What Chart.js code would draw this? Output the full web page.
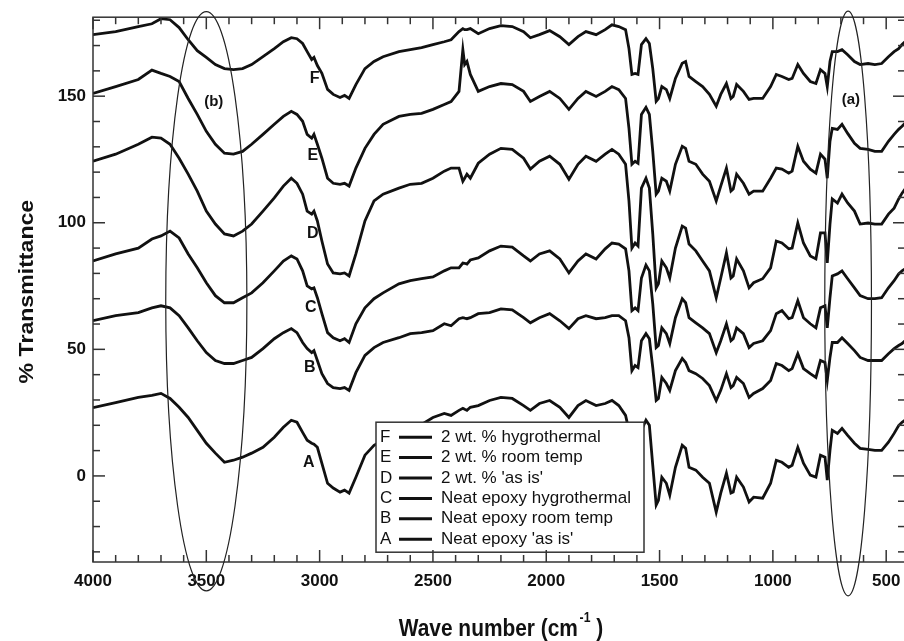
<!DOCTYPE html>
<html>
<head>
<meta charset="utf-8">
<script src="https://cdn.jsdelivr.net/npm/chart.js@4.4.1/dist/chart.umd.min.js"></script>
<style>
html, body { margin: 0; padding: 0; background: #fff; overflow: hidden; }
#wrap { width: 910px; height: 641px; }
</style>
</head>
<body>
<div id="wrap"><canvas id="ftirChart" width="910" height="641"></canvas></div>
<script>
// wave numbers (cm-1), shared by all six spectra
const waveNumbers = [
  4000,3900,3800,3740,3700,3660,3620,3580,3540,3500,
  3460,3420,3380,3340,3300,3250,3200,3160,3125,3100,
  3075,3055,3035,3025,3010,2990,2965,2940,2910,2890,
  2870,2840,2800,2760,2720,2650,2600,2550,2500,2450,
  2420,2385,2368,2360,2350,2335,2300,2250,2200,2150,
  2100,2070,2030,1985,1940,1900,1860,1825,1780,1740,
  1710,1680,1650,1635,1622,1608,1595,1580,1560,1545,
  1530,1515,1505,1490,1470,1455,1430,1400,1385,1370,
  1340,1310,1280,1250,1230,1205,1185,1175,1160,1130,
  1105,1085,1045,1010,985,960,930,915,890,865,
  835,810,790,770,760,748,738,715,695,670,
  640,615,580,550,520,490,465,445,430,417
];

// % transmittance (curves are offset in the original)
const curveF = [
  174.3,175.5,177.5,178.6,180.6,180.2,177.1,172.3,168.0,165.3,
  162.5,160.9,160.5,160.9,162.5,165.6,168.8,171.5,173.1,172.7,
  170.8,167.6,164.5,165.3,162.1,159.0,152.7,150.7,149.5,150.3,
  149.1,154.6,160.9,163.7,165.6,167.6,168.4,169.2,170.4,171.5,
  172.3,175.5,176.7,176.3,176.3,176.7,174.7,176.7,177.9,177.5,
  175.5,173.1,174.3,175.9,173.5,170.4,173.5,175.5,174.3,176.3,
  178.2,177.5,176.3,168.8,158.6,159.0,158.6,170.4,172.7,170.8,
  160.9,148.0,149.1,153.8,152.6,149.1,157.0,163.0,163.7,157.8,
  155.8,153.8,150.7,146.0,150.7,155.0,149.1,149.9,154.6,151.9,
  148.7,149.1,149.1,153.8,158.6,157.8,156.6,157.0,162.5,159.0,
  155.8,155.0,160.5,159.0,153.8,163.7,167.6,167.6,168.4,166.4,
  163.7,162.5,162.9,162.5,162.9,165.6,167.6,168.8,170.4,171.5
];
const curveE = [
  151.1,153.8,156.6,160.3,159.0,157.8,155.8,149.1,142.8,136.1,
  131.0,127.5,127.1,128.2,131.0,134.9,138.9,142.0,144.0,142.8,
  140.1,134.9,133.4,134.9,131.0,125.5,117.6,115.6,115.2,115.6,
  114.5,121.6,129.4,134.9,138.9,142.0,142.8,143.2,144.8,146.7,
  147.9,151.9,168.4,162.5,163.7,158.6,151.9,153.8,155.0,154.6,
  151.9,147.9,149.9,151.9,149.1,144.8,149.1,151.9,149.9,151.9,
  153.8,152.6,149.1,137.3,123.1,124.3,123.5,142.8,145.6,142.8,
  128.2,111.3,112.5,117.6,116.4,112.5,123.1,130.2,129.4,124.3,
  123.1,119.2,116.4,108.6,114.5,121.6,112.5,113.3,119.2,115.6,
  111.3,112.5,112.5,117.6,121.6,121.2,119.6,120.4,130.2,124.3,
  121.2,119.6,127.1,125.1,117.6,132.2,137.3,136.9,138.9,135.3,
  131.4,129.4,129.0,128.2,128.2,132.2,134.9,136.9,138.1,139.3
];
const curveD = [
  124.3,127.1,131.0,133.8,133.4,131.0,125.5,119.2,112.5,104.6,
  99.5,95.6,94.8,96.7,99.5,104.6,109.8,114.5,117.6,115.6,
  111.3,104.6,103.4,104.6,100.7,92.8,83.7,80.2,79.8,80.2,
  79.0,87.7,100.7,108.6,111.3,113.7,115.2,115.6,117.6,120.4,
  121.6,121.6,116.4,117.6,119.2,117.6,123.5,127.1,129.4,129.0,
  125.5,121.2,124.3,126.3,123.1,117.2,123.1,126.3,124.3,127.1,
  129.0,127.1,123.1,108.6,90.0,92.0,90.8,113.7,117.6,113.7,
  95.6,74.3,75.9,84.9,82.2,78.2,90.0,98.7,97.9,91.6,
  88.9,84.9,81.0,70.4,78.2,88.1,78.2,79.0,85.7,81.0,
  74.3,76.3,77.9,82.2,92.8,92.0,89.7,90.0,99.9,92.0,
  86.9,85.7,96.0,96.0,84.1,99.5,109.4,107.8,111.3,107.8,
  104.6,99.5,99.9,99.5,99.5,103.4,105.8,109.4,111.7,113.3
];
const curveC = [
  84.9,87.7,90.0,93.6,94.8,96.7,94.0,87.7,82.2,76.3,
  71.2,68.4,68.4,70.4,72.3,76.3,81.0,84.9,86.9,85.7,
  81.0,75.1,73.9,74.3,70.4,64.1,56.6,54.6,53.4,54.2,
  52.7,60.1,66.4,70.0,72.3,75.9,77.1,77.9,78.6,81.0,
  82.2,82.2,84.1,84.0,83.7,85.3,86.1,88.9,90.8,90.4,
  86.9,84.9,87.7,88.9,85.7,80.2,84.9,87.7,85.7,89.7,
  92.0,91.6,89.7,81.0,65.3,66.4,65.3,78.2,83.3,81.0,
  68.0,50.7,51.5,58.5,56.2,52.3,62.5,70.0,68.4,62.5,
  60.5,58.5,56.2,48.7,53.4,60.1,53.4,54.2,58.5,56.2,
  50.7,52.3,53.4,57.4,64.1,65.3,62.1,62.5,69.2,62.5,
  60.1,58.5,66.4,67.2,58.5,70.4,79.0,79.8,81.0,77.9,
  74.3,71.2,70.0,70.0,70.4,74.3,77.1,79.8,81.0,81.8
];
const curveB = [
  61.3,63.3,64.5,66.4,67.2,66.4,63.3,58.5,53.4,48.7,
  45.6,44.4,44.4,45.6,46.8,50.3,54.2,56.6,58.2,56.6,
  52.7,50.3,48.7,49.5,45.6,40.4,36.5,34.9,34.5,34.9,
  33.8,40.8,47.6,50.7,52.7,54.6,56.2,56.6,57.4,60.1,
  59.3,62.1,62.5,62.3,62.1,62.5,64.1,64.5,66.0,65.6,
  62.5,60.5,62.5,64.1,61.3,58.2,62.1,63.3,62.1,62.5,
  63.3,63.3,61.3,54.6,41.6,43.6,42.8,53.4,56.2,54.2,
  42.8,29.8,30.6,38.9,36.5,33.8,41.6,46.4,44.8,41.6,
  40.4,38.5,35.7,29.8,33.8,40.4,34.9,35.7,38.9,36.5,
  31.0,32.6,34.5,37.7,44.4,43.6,41.6,42.4,48.3,42.4,
  40.4,38.9,45.6,44.8,37.7,46.8,52.7,52.7,54.6,52.3,
  49.5,46.8,45.6,45.6,45.6,48.3,50.3,51.5,52.3,53.4
];
const curveA = [
  27.0,29.0,31.0,31.8,32.6,30.6,27.1,23.1,18.0,12.9,
  9.0,5.4,6.2,7.4,9.0,11.3,15.3,19.2,22.0,21.2,
  17.2,14.1,12.9,12.5,11.3,5.0,-2.9,-4.8,-6.4,-5.6,
  -6.8,-0.5,8.2,12.1,14.1,17.2,18.8,20.3,23.1,24.7,
  23.9,25.9,26.7,26.3,25.9,27.1,27.8,29.8,31.0,30.6,
  27.8,25.9,28.6,29.8,27.1,23.1,27.8,29.8,27.8,28.6,
  29.8,27.8,23.9,18.0,2.3,3.0,4.2,18.0,22.0,20.0,
  4.2,-11.5,-9.6,-0.5,-2.9,-7.6,3.4,12.1,10.9,3.4,
  2.3,-0.5,-2.9,-14.3,-6.8,1.1,-6.8,-6.4,-0.5,-4.4,
  -10.3,-8.4,-8.8,-2.9,6.2,5.4,3.4,4.2,11.3,5.0,
  0.3,-0.5,8.2,7.4,-1.7,10.1,18.0,16.8,18.8,16.0,
  12.9,10.9,10.5,10.1,10.1,13.3,16.8,19.9,21.2,22.0
];

const curveLetters = ['F', 'E', 'D', 'C', 'B', 'A'];
const curveLabels = [
  '2 wt. % hygrothermal',
  '2 wt. % room temp',
  "2 wt. % 'as is'",
  'Neat epoxy hygrothermal',
  'Neat epoxy room temp',
  "Neat epoxy 'as is'"
];
// where the letters sit next to each curve (wave number, % transmittance)
const letterWave = [3022, 3030, 3030, 3039, 3044, 3048];
const letterValue = [157, 126.6, 95.6, 66.4, 42.8, 5.4];

const xTickValues = [4000, 3500, 3000, 2500, 2000, 1500, 1000, 500];
const yTickValues = [0, 50, 100, 150];

// the two marked regions: centre wave number, centre value, half widths
const regionNames = ['(b)', '(a)'];
const regionWave = [3500, 668];
const regionValue = [69, 68.1];
const regionHalfWave = [179, 103];
const regionHalfValue = [114.4, 115.5];
const regionLabelWave = [3467, 656];
const regionLabelValue = [147.9, 148.7];

const FONT = '"Liberation Sans", Arial, Helvetica, sans-serif';
const INK = '#111';

const allCurves = [curveF, curveE, curveD, curveC, curveB, curveA];

const datasets = allCurves.map((vals, i) => ({
  label: curveLetters[i] + ' ' + curveLabels[i],
  data: waveNumbers.map((w, j) => ({ x: w, y: vals[j] })),
  borderColor: INK,
  borderWidth: 2.8,
  pointRadius: 0,
  tension: 0,
  fill: false
}));

function seg(ctx, x1, y1, x2, y2) {
  ctx.beginPath();
  ctx.moveTo(x1, y1);
  ctx.lineTo(x2, y2);
  ctx.stroke();
}

const decor = {
  id: 'decor',
  afterDatasetsDraw(chart) {
    const { ctx, chartArea: a } = chart;
    // legend box sits on top of curve A
    const bx = a.left + 283, by = a.top + 405, bw = 268, bh = 130;
    ctx.save();
    ctx.fillStyle = '#fff';
    ctx.fillRect(bx, by, bw, bh);
    ctx.strokeStyle = '#333';
    ctx.lineWidth = 1.5;
    ctx.strokeRect(bx, by, bw, bh);
    ctx.font = '17px ' + FONT;
    ctx.fillStyle = INK;
    ctx.textBaseline = 'middle';
    ctx.textAlign = 'left';
    curveLetters.forEach((letter, i) => {
      const ry = by + 15 + i * 20.4;
      ctx.fillText(letter, bx + 4, ry);
      ctx.lineWidth = 3;
      ctx.strokeStyle = INK;
      seg(ctx, bx + 23, ry, bx + 56, ry);
      ctx.fillText(curveLabels[i], bx + 65, ry);
    });
    ctx.restore();
  },
  afterDraw(chart) {
    const { ctx, chartArea: a, scales: { x, y } } = chart;
    ctx.save();
    // frame
    ctx.strokeStyle = '#333';
    ctx.lineWidth = 1.5;
    ctx.strokeRect(a.left, a.top, a.right - a.left, a.bottom - a.top);
    // inward ticks on all four sides
    for (let v = 500; v <= 4000; v += 100) {
      const px = x.getPixelForValue(v);
      const len = v % 500 === 0 ? 12 : 7;
      seg(ctx, px, a.bottom, px, a.bottom - len);
      seg(ctx, px, a.top, px, a.top + len);
    }
    for (let v = -30; v <= 180; v += 10) {
      const py = y.getPixelForValue(v);
      const len = v % 50 === 0 ? 12 : 7;
      seg(ctx, a.left, py, a.left + len, py);
      seg(ctx, a.right, py, a.right - len, py);
    }

    // ellipses marking regions
    ctx.lineWidth = 1.2;
    ctx.strokeStyle = '#222';
    regionNames.forEach((name, i) => {
      const cx = x.getPixelForValue(regionWave[i]);
      const cy = y.getPixelForValue(regionValue[i]);
      const rx = Math.abs(x.getPixelForValue(regionWave[i] - regionHalfWave[i]) - cx);
      const ry = Math.abs(y.getPixelForValue(regionValue[i] + regionHalfValue[i]) - cy);
      ctx.beginPath();
      ctx.ellipse(cx, cy, rx, ry, 0, 0, Math.PI * 2);
      ctx.stroke();
      ctx.font = 'bold 15px ' + FONT;
      ctx.fillStyle = INK;
      ctx.textAlign = 'center';
      ctx.textBaseline = 'middle';
      ctx.fillText(name, x.getPixelForValue(regionLabelWave[i]), y.getPixelForValue(regionLabelValue[i]));
    });

    // curve letters
    ctx.font = 'bold 16px ' + FONT;
    ctx.textAlign = 'center';
    ctx.textBaseline = 'middle';
    curveLetters.forEach((letter, i) => {
      ctx.fillText(letter, x.getPixelForValue(letterWave[i]), y.getPixelForValue(letterValue[i]));
    });

    // x axis title with superscript
    const mainTxt = 'Wave number (cm', supTxt = '-1', endTxt = ' )';
    const sx = 0.87;
    ctx.font = 'bold 24px ' + FONT;
    const w1 = ctx.measureText(mainTxt).width;
    const w3 = ctx.measureText(endTxt).width;
    ctx.font = 'bold 14px ' + FONT;
    const w2 = ctx.measureText(supTxt).width;
    const total = (w1 + w2 + 2 + w3) * sx;
    ctx.save();
    ctx.translate((a.left + a.right) / 2 + 2 - total / 2, a.bottom + 74);
    ctx.scale(sx, 1);
    ctx.textAlign = 'left';
    ctx.textBaseline = 'alphabetic';
    ctx.font = 'bold 24px ' + FONT;
    ctx.fillText(mainTxt, 0, 0);
    ctx.font = 'bold 14px ' + FONT;
    ctx.fillText(supTxt, w1 + 2, -14);
    ctx.font = 'bold 24px ' + FONT;
    ctx.fillText(endTxt, w1 + w2 + 2, 0);
    ctx.restore();

    // y axis title
    ctx.save();
    ctx.translate(33, (a.top + a.bottom) / 2 + 2);
    ctx.rotate(-Math.PI / 2);
    ctx.scale(1.1, 1);
    ctx.font = 'bold 21px ' + FONT;
    ctx.textAlign = 'center';
    ctx.textBaseline = 'alphabetic';
    ctx.fillText('% Transmittance', 0, 0);
    ctx.restore();

    ctx.restore();
  }
};

const tickFont = { family: FONT, size: 17, weight: 'bold' };

new Chart(document.getElementById('ftirChart').getContext('2d'), {
  type: 'line',
  data: { datasets: datasets },
  options: {
    responsive: false,
    animation: false,
    devicePixelRatio: 1,
    layout: { padding: { top: 15, right: 5, left: 0, bottom: 0 } },
    plugins: {
      legend: { display: false },
      tooltip: { enabled: false }
    },
    scales: {
      x: {
        type: 'linear',
        reverse: true,
        min: 417,
        max: 4000,
        afterBuildTicks: (s) => { s.ticks = xTickValues.map(v => ({ value: v })); },
        afterFit: (s) => { s.height = 79; },
        grid: { display: false, drawTicks: false, tickLength: 0 },
        border: { display: false },
        ticks: { font: tickFont, color: INK, padding: 9, maxRotation: 0, autoSkip: false,
                 callback: (v) => String(v) }
      },
      y: {
        type: 'linear',
        min: -34,
        max: 181.2,
        afterBuildTicks: (s) => { s.ticks = yTickValues.map(v => ({ value: v })); },
        afterFit: (s) => { s.width = 93; },
        grid: { display: false, drawTicks: false, tickLength: 0 },
        border: { display: false },
        ticks: { font: tickFont, color: INK, padding: 7, callback: (v) => String(v) }
      }
    }
  },
  plugins: [decor]
});
</script>
</body>
</html>
